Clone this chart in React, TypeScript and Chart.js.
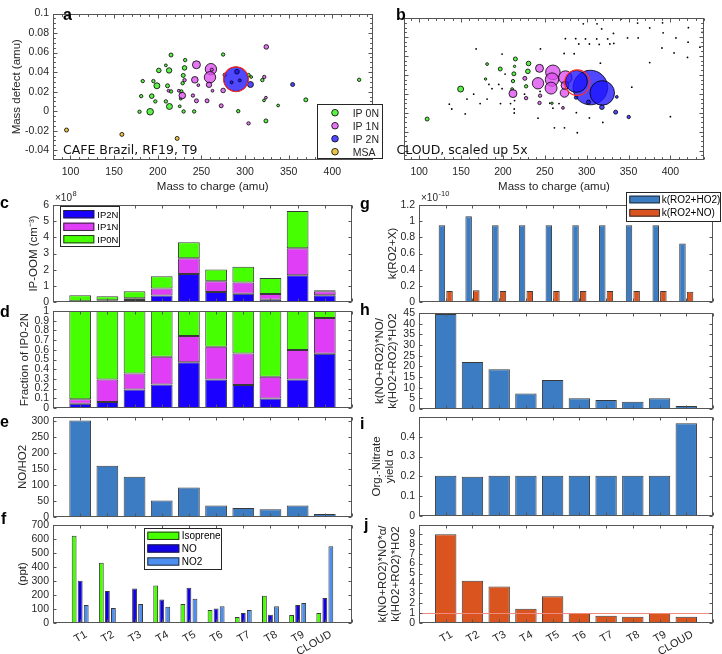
import React, { useEffect, useRef } from 'react';
import { Chart, registerables } from 'chart.js';
Chart.register(...registerables);

const FONT = "'Liberation Sans', Arial, Helvetica, sans-serif";
const TXT = '#262626';
const AXIS = '#555555';

// ---------- categories ----------
const categories = ['T1', 'T2', 'T3', 'T4', 'T5', 'T6', 'T7', 'T8', 'T9', 'CLOUD'];

// c: IP-OOM (x1e8 cm^-3)
const oomIP2N = [0.02, 0.025, 0.125, 0.40, 1.73, 0.62, 0.51, 0.14, 1.66, 0.41];
const oomIP1N = [0.02, 0.077, 0.11, 0.44, 0.98, 0.67, 0.70, 0.35, 1.67, 0.25];
const oomIP0N = [0.37, 0.248, 0.425, 0.76, 0.99, 0.72, 0.97, 0.99, 2.30, 0.06];
// d: fraction of IP0-2N
const fracIP2N = [0.045, 0.062, 0.19, 0.241, 0.472, 0.293, 0.238, 0.097, 0.293, 0.559];
const fracIP1N = [0.045, 0.231, 0.165, 0.287, 0.269, 0.338, 0.324, 0.224, 0.304, 0.369];
const fracIP0N = [0.91, 0.707, 0.645, 0.472, 0.259, 0.369, 0.438, 0.679, 0.403, 0.072];
// e: NO/HO2
const noHo2 = [303, 161, 126, 51.6, 92.6, 35.8, 28.4, 24.2, 35.8, 9.5];
// f: ppt
const isoprene = [624, 430, null, 268, 135, 92.5, 43, 195, 57, 71];
const noPpt = [301, 228, 247, 168, 252, 104, 71, 59, 128, 178];
const no2Ppt = [128, 107, 135, 116, 173, 119, 92.5, 119, 142, 548];
// g: rate constants (x1e-10)
const kRO2HO2 = [0.949, 1.06, 0.949, 0.949, 0.949, 0.949, 0.949, 0.949, 0.949, 0.723];
const kRO2NO = [0.136, 0.144, 0.136, 0.136, 0.136, 0.136, 0.136, 0.136, 0.136, 0.127];
// h
const ratioNOHO2 = [44.5, 22.0, 18.6, 7.3, 13.6, 5.0, 4.2, 3.4, 5.0, 1.4];
// i
const nitrateYield = [0.203, 0.198, 0.203, 0.203, 0.203, 0.203, 0.203, 0.203, 0.203, 0.468];
// j
const ratioAlpha = [8.96, 4.26, 3.69, 1.45, 2.71, 1.01, 0.74, 0.64, 1.01, 0.64];
const jRefLine = 1;

// ---------- scatter a (mz, mass defect, radius px) ----------
const aIP0N = [[215.2,0.0575,2.0],[274.9,0.058,1.7],[231.4,0.0523,1.7],[209.3,0.0469,1.4],[201.2,0.0417,2.3],[213.0,0.0417,2.7],[230.7,0.0443,2.3],[229.2,0.0366,2.0],[228.5,0.0286,1.7],[182.8,0.0308,1.7],[195.0,0.0308,1.7],[199.0,0.026,3.0],[211.2,0.026,2.0],[215.2,0.0202,1.7],[227.0,0.0202,1.7],[181.0,0.0154,1.7],[193.1,0.0154,2.3],[197.2,0.01,1.7],[209.3,0.01,1.7],[213.4,0.0048,3.0],[179.1,-0.0006,1.7],[191.3,-0.0006,3.3],[229.6,-0.0003,1.7],[241.7,-0.0003,1.7],[225.2,0.005,1.4],[226.3,0.0128,1.4],[292.2,0.0,1.7],[304.0,0.037,1.7],[307.0,0.035,1.4],[319.8,0.0318,1.7],[321.7,0.011,1.4],[323.9,-0.01,2.0],[337.9,0.0058,1.4],[369.6,0.0116,2.0],[430.7,0.0321,1.7]];
const aIP1N = [[244.3,0.0475,4.0],[260.9,0.043,5.7],[259.8,0.0347,5.7],[242.5,0.0321,3.3],[258.7,0.027,2.7],[228.1,0.016,3.3],[274.9,0.0212,2.3],[324.3,0.0658,2.3],[322.0,0.035,1.7],[323.9,0.0138,1.4],[272.7,0.0055,2.0],[256.5,0.0106,2.0],[244.3,0.0106,2.0],[240.3,0.016,1.7],[246.5,0.0266,1.4],[230.7,0.0318,1.7],[224.1,0.0209,1.4],[212.3,0.0209,1.4],[262.7,0.0209,1.4],[304.0,-0.0125,1.7],[276.7,0.0372,1.7],[261.9,0.0425,1.5]];
const aIP2N = [[289.6,0.0327,12.3],[290.7,0.0404,2.3],[306.2,0.0273,3.0],[354.5,0.0273,2.0],[284.5,0.0295,1.5],[294.0,0.0315,1.5]];
const aMSA = [[95.5,-0.0193,2.0],[158.9,-0.0238,2.0],[222.2,-0.0279,2.0]];
const aRing = [[289.6,0.0327,12.3]];

// ---------- scatter b ----------
const bIP0N = [[109.5,-0.0067,2.0],[149.5,0.025,3.0],[181.1,0.0514,1.4],[196.8,0.0462,2.0],[214.9,0.0568,2.0],[213.1,0.0411,2.0],[230.6,0.052,2.3],[229.8,0.0437,2.3],[212.0,0.0334,1.7],[227.7,0.0279,1.7],[211.0,0.025,1.4],[213.9,0.049,1.2],[179.3,0.0356,1.2],[258.6,0.01,1.2]];
const bIP1N = [[243.7,0.0469,4.0],[259.7,0.0427,7.3],[241.9,0.0311,5.7],[258.6,0.035,6.7],[257.5,0.026,6.0],[274.6,0.0372,6.7],[273.5,0.0209,4.3],[274.2,0.0289,4.0],[212.0,0.0202,4.0],[226.2,0.0363,2.0],[227.7,0.0154,1.7],[243.7,0.0103,1.7],[244.4,0.018,1.7],[271.7,0.0051,1.4]];
const bIP2N = [[304.4,0.0266,17.3],[318.6,0.0209,12.3],[287.7,0.0331,11.0],[287.3,0.016,1.7],[302.2,0.0112,2.0],[318.2,0.0058,2.3],[334.6,0.0006,2.0],[350.2,-0.0045,1.7],[336.0,0.0167,1.4]];
const bRing = [[288.8,0.0318,12.7]];
const bOther = [[168.0,0.0674],[199.0,0.062],[244.8,0.0674],[273.1,0.0626],[285.1,0.0623],[274.6,0.0783],[286.9,0.0783],[298.6,0.078],[312.0,0.078],[315.0,0.0722],[325.1,0.078],[332.0,0.0838],[348.8,0.079],[361.5,0.079],[375.3,0.0896],[391.3,0.0844],[406.6,0.079],[421.5,0.0899],[421.1,0.0745],[435.3,0.0693],[389.9,0.0684],[404.4,0.0632],[420.4,0.0584],[316.4,0.0523],[375.3,0.053],[437.9,0.085],[360.8,0.0947],[346.6,0.0998],[312.4,0.094],[317.9,0.0886],[296.0,0.094],[332.4,0.0732],[341.5,0.0992],[390.6,0.095],[290.6,0.0726],[303.3,0.0726],[327.7,0.0726],[165.1,0.0196],[157.1,0.0144],[136.0,0.009],[138.9,0.0039],[155.0,-0.0013],[172.8,0.0096],[181.1,0.0144],[187.0,0.0254],[195.0,0.0299],[199.0,0.0254],[197.1,0.0096],[209.1,0.0096],[213.5,0.0039],[213.5,-0.0003],[213.9,0.0128],[225.8,0.0196],[241.9,-0.0058],[256.0,0.01],[259.7,0.0048],[261.5,-0.016],[273.5,-0.016],[288.8,-0.0212],[287.7,0.0],[303.3,-0.0055],[319.3,-0.0103],[353.9,0.027],[400.0,-0.0042],[183.3,0.0299],[202.6,0.0408],[244.4,0.0225],[267.0,0.0096]];

const mzTicks = [100, 150, 200, 250, 300, 350, 400];
const mdTicks = [-0.04, -0.02, 0, 0.02, 0.04, 0.06, 0.08, 0.1];

// colours
const C_IP0N = '#46ff00', C_IP1N = '#e03df7', C_IP2N = '#1a00ff';
const C_ISO = '#46ff00', C_NO = '#1000e8', C_NO2 = '#4c8ff0';
const C_BLUE = '#3b7cc3', C_ORANGE = '#d9541e';
const EDGE = 'rgba(35,35,35,0.9)';
const S_IP0N = 'rgba(64,238,40,0.85)', S_IP1N = 'rgba(222,80,240,0.78)', S_IP2N = 'rgba(30,20,255,0.78)', S_MSA = 'rgba(234,190,60,0.95)';

const fmt = (v: number) => String(Math.round(v * 10000) / 10000);

function range(a: number, b: number, s: number) {
  const out: number[] = [];
  for (let v = a; v <= b + 1e-9; v += s) out.push(Math.round(v * 1e6) / 1e6);
  return out;
}

function boxPlugin(o: { tickLen: number; xMinor?: number[]; yMinor?: number[]; hline?: number }) {
  return {
    id: 'mbox',
    afterDatasetsDraw(chart: any) {
      const { ctx, chartArea } = chart;
      const L = Math.round(chartArea.left) + 0.5, R = Math.round(chartArea.right) - 0.5;
      const T = Math.round(chartArea.top) + 0.5, B = Math.round(chartArea.bottom) - 0.5;
      const xs = chart.scales.x, ys = chart.scales.y;
      ctx.save();
      if (o.hline != null) {
        const y = Math.round(ys.getPixelForValue(o.hline)) + 0.5;
        ctx.strokeStyle = '#f08a80';
        ctx.lineWidth = 1;
        ctx.beginPath(); ctx.moveTo(L, y); ctx.lineTo(R, y); ctx.stroke();
      }
      ctx.strokeStyle = AXIS;
      ctx.lineWidth = 1;
      ctx.strokeRect(L, T, R - L, B - T);
      ctx.beginPath();
      const vx = (px: number, len: number) => { const p = Math.round(px) + 0.5; ctx.moveTo(p, B); ctx.lineTo(p, B - len); ctx.moveTo(p, T); ctx.lineTo(p, T + len); };
      const vy = (py: number, len: number) => { const p = Math.round(py) + 0.5; ctx.moveTo(L, p); ctx.lineTo(L + len, p); ctx.moveTo(R, p); ctx.lineTo(R - len, p); };
      xs.ticks.forEach((_t: any, i: number) => vx(xs.getPixelForTick(i), o.tickLen));
      ys.ticks.forEach((_t: any, i: number) => vy(ys.getPixelForTick(i), o.tickLen));
      (o.xMinor || []).forEach((v) => vx(xs.getPixelForValue(v), o.tickLen * 0.6));
      (o.yMinor || []).forEach((v) => vy(ys.getPixelForValue(v), o.tickLen * 0.6));
      ctx.stroke();
      ctx.restore();
    },
  };
}

type DS = { data: (number | null)[]; color: string; cat: number; bar: number };
type BarPanel = {
  kind: 'bar'; x: number; y: number; w: number; h: number; yWidth: number; padTop: number; padRight: number; xHeight: number;
  titlePad: number; title: string | string[]; yTicks: number[]; yMax: number; stacked?: boolean; showX?: boolean; hline?: number; datasets: DS[];
};
type ScatterPanel = {
  kind: 'scatter'; x: number; y: number; w: number; h: number; yWidth: number; padTop: number; padRight: number; xHeight: number;
  xMin: number; xMax: number; showY: boolean; groups: { pts: number[][]; fill: string; edge: string; bw: number; order: number }[];
};

function makeBar(cv: HTMLCanvasElement, p: BarPanel) {
  const labels = ['', ...categories, ''];
  const cfg: any = {
    type: 'bar',
    data: {
      labels,
      datasets: p.datasets.map((d) => ({
        data: [null, ...d.data, null], backgroundColor: d.color, borderColor: EDGE, borderWidth: 1, borderSkipped: false,
        categoryPercentage: d.cat, barPercentage: d.bar,
      })),
    },
    options: {
      responsive: false, animation: false, devicePixelRatio: 1, events: [],
      layout: { padding: { top: p.padTop, right: p.padRight, left: 0, bottom: 0 } },
      plugins: { legend: { display: false }, tooltip: { enabled: false } },
      scales: {
        x: {
          type: 'category', offset: false, stacked: !!p.stacked,
          grid: { display: false, drawTicks: false }, border: { display: false },
          ticks: { display: !!p.showX, autoSkip: false, minRotation: 30, maxRotation: 30, padding: 5, labelOffset: 6, font: { family: FONT, size: 11 }, color: TXT },
          afterFit: (s: any) => { s.height = p.xHeight; s.paddingLeft = 0; s.paddingRight = 0; },
        },
        y: {
          type: 'linear', min: 0, max: p.yMax, stacked: !!p.stacked,
          grid: { display: false, drawTicks: false }, border: { display: false },
          afterBuildTicks: (s: any) => { s.ticks = p.yTicks.map((v) => ({ value: v })); },
          ticks: { autoSkip: false, padding: 4, font: { family: FONT, size: 10.5 }, color: TXT, callback: (v: any) => fmt(Number(v)) },
          title: { display: true, text: p.title, color: TXT, font: { family: FONT, size: 11.5, lineHeight: 1.15 }, padding: { top: p.titlePad, bottom: 0 } },
          afterFit: (s: any) => { s.width = p.yWidth; s.paddingTop = 0; s.paddingBottom = 0; },
        },
      },
    },
    plugins: [boxPlugin({ tickLen: 3, hline: p.hline })],
  };
  return new Chart(cv, cfg);
}

function makeScatter(cv: HTMLCanvasElement, p: ScatterPanel) {
  const cfg: any = {
    type: 'bubble',
    data: {
      datasets: p.groups.map((g) => ({
        data: g.pts.map(([x, y, r]) => ({ x, y, r: r ?? 0.9 })),
        backgroundColor: g.fill, borderColor: g.edge, borderWidth: g.bw, order: g.order,
      })),
    },
    options: {
      responsive: false, animation: false, devicePixelRatio: 1, events: [],
      layout: { padding: { top: p.padTop, right: p.padRight, left: 0, bottom: 0 } },
      plugins: { legend: { display: false }, tooltip: { enabled: false } },
      scales: {
        x: {
          type: 'linear', min: p.xMin, max: p.xMax,
          grid: { display: false, drawTicks: false }, border: { display: false },
          afterBuildTicks: (s: any) => { s.ticks = mzTicks.map((v) => ({ value: v })); },
          ticks: { padding: 6, maxRotation: 0, autoSkip: false, font: { family: FONT, size: 10.5 }, color: TXT, callback: (v: any) => String(v) },
          title: { display: true, text: 'Mass to charge (amu)', color: TXT, font: { family: FONT, size: 11.5 }, padding: { top: 0, bottom: 2 } },
          afterFit: (s: any) => { s.height = p.xHeight; s.paddingLeft = 0; s.paddingRight = 0; },
        },
        y: {
          type: 'linear', min: -0.05, max: 0.1,
          grid: { display: false, drawTicks: false }, border: { display: false },
          afterBuildTicks: (s: any) => { s.ticks = mdTicks.map((v) => ({ value: v })); },
          ticks: { display: p.showY, autoSkip: false, padding: 4, font: { family: FONT, size: 10.5 }, color: TXT, callback: (v: any) => fmt(Number(v)) },
          title: { display: p.showY, text: 'Mass defect (amu)', color: TXT, font: { family: FONT, size: 11.5, lineHeight: 1.15 }, padding: { top: 10.4, bottom: 0 } },
          afterFit: (s: any) => { s.width = p.yWidth; s.paddingTop = 0; s.paddingBottom = 0; },
        },
      },
    },
    plugins: [boxPlugin({ tickLen: 4, xMinor: range(p.xMin < 90 ? 90 : 100, 440, 10), yMinor: range(-0.045, 0.095, 0.005) })],
  };
  return new Chart(cv, cfg);
}

const LW = 53, RW = 57;
const PANELS: (BarPanel | ScatterPanel)[] = [
  {
    kind: 'scatter', x: 0, y: 0, w: 386, h: 196, yWidth: 53, padTop: 4, padRight: 1, xHeight: 36, xMin: 80, xMax: 446, showY: true,
    groups: [
      { pts: aRing, fill: 'rgba(0,0,0,0)', edge: '#ff2a2a', bw: 1.2, order: 0 },
      { pts: aMSA, fill: S_MSA, edge: '#000', bw: 0.8, order: 4 },
      { pts: aIP0N, fill: S_IP0N, edge: '#000', bw: 0.8, order: 3 },
      { pts: aIP1N, fill: S_IP1N, edge: '#000', bw: 0.8, order: 2 },
      { pts: aIP2N, fill: S_IP2N, edge: '#000', bw: 0.8, order: 1 },
    ],
  },
  {
    kind: 'scatter', x: 386, y: 0, w: 336, h: 196, yWidth: 1, padTop: 4, padRight: 7, xHeight: 36, xMin: 82, xMax: 440, showY: false,
    groups: [
      { pts: bRing, fill: 'rgba(0,0,0,0)', edge: '#ff2a2a', bw: 1.2, order: 0 },
      { pts: bOther.map(([x, y]) => [x, y, 0.9]), fill: '#000', edge: '#000', bw: 0, order: 5 },
      { pts: bIP0N, fill: S_IP0N, edge: '#000', bw: 0.8, order: 3 },
      { pts: bIP1N, fill: S_IP1N, edge: '#000', bw: 0.8, order: 2 },
      { pts: bIP2N, fill: S_IP2N, edge: '#000', bw: 0.8, order: 1 },
    ],
  },
  {
    kind: 'bar', x: 0, y: 200, w: 360, h: 105, yWidth: LW, padTop: 5, padRight: 8, xHeight: 3, titlePad: 27.4,
    title: 'IP-OOM (cm⁻³)', yTicks: [0, 1, 2, 3, 4, 5, 6], yMax: 6, stacked: true,
    datasets: [
      { data: oomIP2N, color: C_IP2N, cat: 1, bar: 0.8 },
      { data: oomIP1N, color: C_IP1N, cat: 1, bar: 0.8 },
      { data: oomIP0N, color: C_IP0N, cat: 1, bar: 0.8 },
    ],
  },
  {
    kind: 'bar', x: 0, y: 306, w: 360, h: 105, yWidth: LW, padTop: 5, padRight: 8, xHeight: 3, titlePad: 18.4,
    title: 'Fraction of IP0-2N', yTicks: range(0, 1, 0.1), yMax: 1, stacked: true,
    datasets: [
      { data: fracIP2N, color: C_IP2N, cat: 1, bar: 0.8 },
      { data: fracIP1N, color: C_IP1N, cat: 1, bar: 0.8 },
      { data: fracIP0N, color: C_IP0N, cat: 1, bar: 0.8 },
    ],
  },
  {
    kind: 'bar', x: 0, y: 412, w: 360, h: 108, yWidth: LW, padTop: 5, padRight: 8, xHeight: 3, titlePad: 15.9,
    title: 'NO/HO2', yTicks: [0, 50, 100, 150, 200, 250, 300], yMax: 314,
    datasets: [{ data: noHo2, color: C_BLUE, cat: 1, bar: 0.8 }],
  },
  {
    kind: 'bar', x: 0, y: 520, w: 360, h: 134, yWidth: LW, padTop: 5, padRight: 8, xHeight: 31, titlePad: 16.4,
    title: '(ppt)', yTicks: [0, 100, 200, 300, 400, 500, 600, 700], yMax: 700, showX: true,
    datasets: [
      { data: isoprene, color: C_ISO, cat: 0.667, bar: 0.8 },
      { data: noPpt, color: C_NO, cat: 0.667, bar: 0.8 },
      { data: no2Ppt, color: C_NO2, cat: 0.667, bar: 0.8 },
    ],
  },
  {
    kind: 'bar', x: 362, y: 200, w: 360, h: 105, yWidth: RW, padTop: 5, padRight: 9, xHeight: 3, titlePad: 24.1,
    title: 'k(RO2+X)', yTicks: [0, 0.2, 0.4, 0.6, 0.8, 1, 1.2], yMax: 1.2,
    datasets: [
      { data: kRO2HO2, color: C_BLUE, cat: 0.571, bar: 0.85 },
      { data: kRO2NO, color: C_ORANGE, cat: 0.571, bar: 0.85 },
    ],
  },
  {
    kind: 'bar', x: 362, y: 308, w: 360, h: 104, yWidth: RW, padTop: 5, padRight: 9, xHeight: 3, titlePad: 11.4,
    title: ['k(NO+RO2)*NO/', 'k(HO2+RO2)*HO2'], yTicks: range(0, 45, 5), yMax: 45,
    datasets: [{ data: ratioNOHO2, color: C_BLUE, cat: 1, bar: 0.8 }],
  },
  {
    kind: 'bar', x: 362, y: 412, w: 360, h: 107, yWidth: RW, padTop: 5, padRight: 9, xHeight: 3, titlePad: 8.1,
    title: ['Org.-Nitrate', 'yield α'], yTicks: [0, 0.1, 0.2, 0.3, 0.4], yMax: 0.5,
    datasets: [{ data: nitrateYield, color: C_BLUE, cat: 1, bar: 0.8 }],
  },
  {
    kind: 'bar', x: 362, y: 520, w: 360, h: 134, yWidth: RW, padTop: 5, padRight: 9, xHeight: 31, titlePad: 14.4,
    title: ['k(NO+RO2)*NO*α/', 'k(HO2+RO2)*HO2'], yTicks: range(0, 9, 1), yMax: 9.9, showX: true, hline: jRefLine,
    datasets: [{ data: ratioAlpha, color: C_ORANGE, cat: 1, bar: 0.8 }],
  },
];

function drawOverlay(cv: HTMLCanvasElement) {
  const ctx = cv.getContext('2d')!;
  ctx.clearRect(0, 0, cv.width, cv.height);
  ctx.textBaseline = 'alphabetic';
  const text = (s: string, x: number, y: number, font: string, color = '#000') => {
    ctx.font = font; ctx.fillStyle = color; ctx.fillText(s, x, y);
  };
  const bold = `bold 16px ${FONT}`;
  text('a', 63, 19.5, bold); text('b', 396, 19.5, bold);
  text('c', 0, 208, bold); text('d', 0, 316.5, bold); text('e', 0, 426.5, bold); text('f', 1, 523.5, bold);
  text('g', 360, 208.5, bold); text('h', 360, 315, bold); text('i', 360, 429, bold); text('j', 364, 529.5, bold);
  const dv = `12.5px 'DejaVu Sans', sans-serif`;
  text('CAFE Brazil, RF19, T9', 63, 154, dv, '#111');
  text('CLOUD, scaled up 5x', 396.5, 154, dv, '#111');
  text('×10', 55, 200.5, `10px ${FONT}`, TXT); text('8', 72.5, 196, `7.5px ${FONT}`, TXT);
  text('×10', 421, 200.5, `10px ${FONT}`, TXT); text('-10', 438.5, 196, `7.5px ${FONT}`, TXT);

  // legend a
  ctx.fillStyle = '#fff'; ctx.fillRect(317.5, 104.5, 65, 54);
  ctx.strokeStyle = '#262626'; ctx.lineWidth = 1; ctx.strokeRect(317.5, 104.5, 65, 54);
  const aItems: [string, string, number][] = [['IP 0N', S_IP0N, 112.7], ['IP 1N', S_IP1N, 125.7], ['IP 2N', S_IP2N, 138.7], ['MSA', S_MSA, 151.7]];
  aItems.forEach(([l, c, y]) => {
    ctx.beginPath(); ctx.arc(335, y, 3.3, 0, Math.PI * 2); ctx.fillStyle = c; ctx.fill();
    ctx.strokeStyle = '#000'; ctx.lineWidth = 0.8; ctx.stroke();
    text(l, 352.7, y + 3.8, `10.5px ${FONT}`, TXT);
  });

  const boxLegend = (bx: number, by: number, bw: number, bh: number, swX: number, swW: number, swH: number, tx: number, fs: number, rows: [string, string, number][]) => {
    ctx.fillStyle = '#fff'; ctx.fillRect(bx, by, bw, bh);
    ctx.strokeStyle = '#262626'; ctx.lineWidth = 1; ctx.strokeRect(bx, by, bw, bh);
    rows.forEach(([l, c, y]) => {
      ctx.fillStyle = c; ctx.fillRect(swX, y - swH / 2, swW, swH);
      ctx.strokeStyle = EDGE; ctx.lineWidth = 1; ctx.strokeRect(swX + 0.5, y - swH / 2 + 0.5, swW - 1, swH - 1);
      text(l, tx, y + fs * 0.36, `${fs}px ${FONT}`, '#000');
    });
  };
  boxLegend(60.5, 206.5, 59, 40, 63.3, 31, 8.3, 97.3, 9.5, [['IP2N', C_IP2N, 214.2], ['IP1N', C_IP1N, 226.8], ['IP0N', C_IP0N, 239.2]]);
  boxLegend(144.5, 528.5, 77, 41, 147.3, 32, 8.3, 181.7, 10, [['Isoprene', C_ISO, 535.8], ['NO', C_NO, 548.5], ['NO2', C_NO2, 561.5]]);
  boxLegend(626.5, 192.5, 94, 29, 629.3, 30.7, 7.7, 661.7, 10, [['k(RO2+HO2)', C_BLUE, 199.5], ['k(RO2+NO)', C_ORANGE, 212.8]]);
}

export default function App() {
  const refs = useRef<(HTMLCanvasElement | null)[]>([]);
  const overlay = useRef<HTMLCanvasElement | null>(null);
  useEffect(() => {
    const charts: Chart[] = [];
    PANELS.forEach((p, i) => {
      const cv = refs.current[i];
      if (!cv) return;
      charts.push(p.kind === 'bar' ? makeBar(cv, p) : makeScatter(cv, p));
    });
    if (overlay.current) drawOverlay(overlay.current);
    return () => { charts.forEach((c) => c.destroy()); };
  }, []);
  return (
    <div style={{ position: 'absolute', left: 0, top: 0, width: 722, height: 654, background: '#fff', overflow: 'hidden' }}>
      {PANELS.map((p, i) => (
        <canvas key={i} ref={(el) => { refs.current[i] = el; }} width={p.w} height={p.h}
          style={{ position: 'absolute', left: p.x, top: p.y, width: p.w, height: p.h }} />
      ))}
      <canvas ref={overlay} width={722} height={654} style={{ position: 'absolute', left: 0, top: 0, pointerEvents: 'none' }} />
    </div>
  );
}
